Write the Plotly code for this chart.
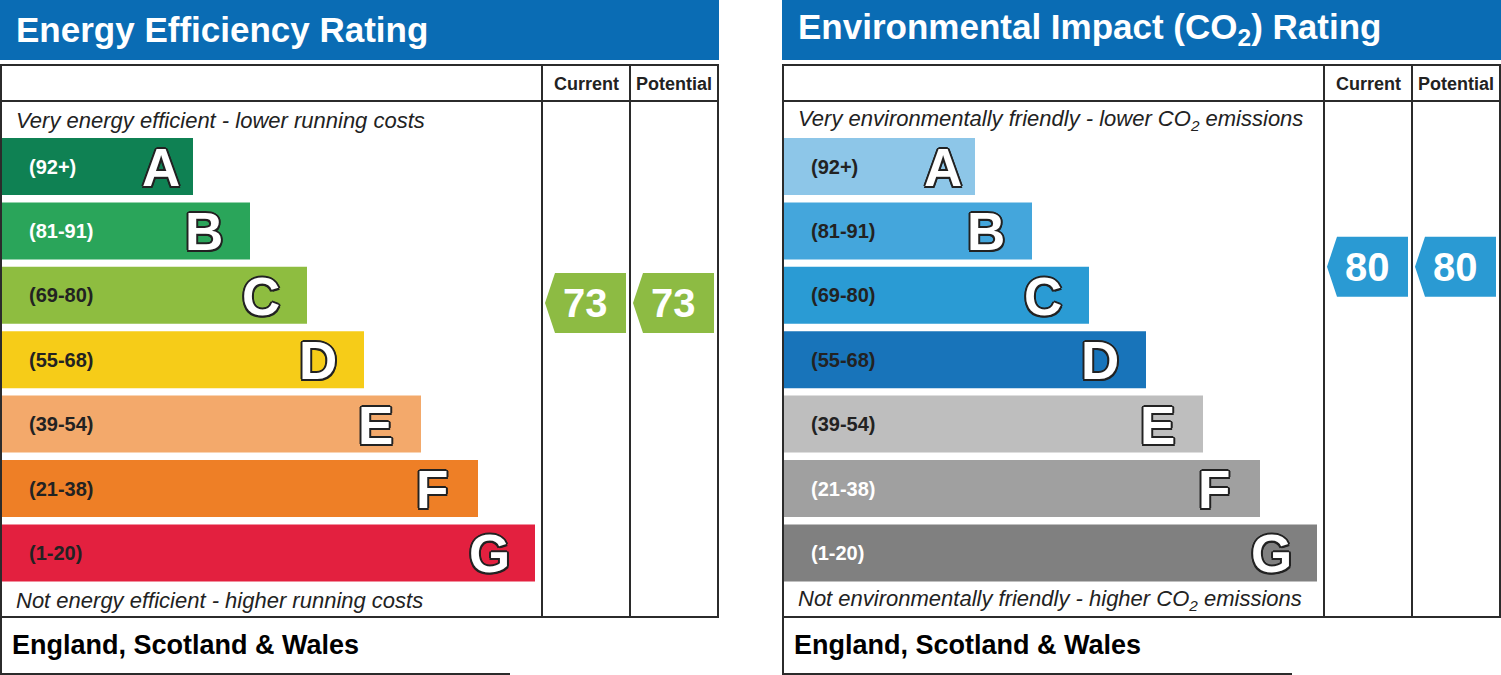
import plotly.graph_objects as go

# ---------------- data ----------------
bands = ["A", "B", "C", "D", "E", "F", "G"]
band_ranges = ["(92+)", "(81-91)", "(69-80)", "(55-68)", "(39-54)", "(21-38)", "(1-20)"]
band_lo = [92, 81, 69, 55, 39, 21, 1]
band_hi = [100, 91, 80, 68, 54, 38, 20]

ee_colors = ["#0f8153", "#2aa55a", "#8ebd40", "#f6cc18", "#f3a96b", "#ee7f26", "#e3203f"]
ee_label_colors = ["white", "white", "#222222", "#222222", "#222222", "#222222", "#222222"]
ei_colors = ["#8dc6e8", "#44a6dc", "#2a9bd4", "#1874ba", "#bebebe", "#a0a0a0", "#808080"]
ei_label_colors = ["#222222", "#222222", "#222222", "#222222", "#222222", "white", "white"]

ee_current, ee_potential = 73, 73
ei_current, ei_potential = 80, 80
ee_arrow_color = "#8dbb43"
ei_arrow_color = "#2a9ad3"

panels = [
    dict(ox=0, title="Energy Efficiency Rating",
         top_note="Very energy efficient - lower running costs",
         bottom_note="Not energy efficient - higher running costs",
         colors=ee_colors, label_colors=ee_label_colors,
         current=ee_current, potential=ee_potential, arrow=ee_arrow_color),
    dict(ox=782, title="Environmental Impact (CO<sub>2</sub>) Rating",
         top_note="Very environmentally friendly - lower CO<sub>2</sub> emissions",
         bottom_note="Not environmentally friendly - higher CO<sub>2</sub> emissions",
         colors=ei_colors, label_colors=ei_label_colors,
         current=ei_current, potential=ei_potential, arrow=ei_arrow_color),
]
region = "England, Scotland & Wales"
col_titles = ["Current", "Potential"]

# ---------------- layout geometry ----------------
BAR_TOP0, BAR_STEP, BAR_H = 138, 64.4, 57
BAR_LEN0, BAR_LEN_STEP = 191, 57
HEADER_BLUE = "#0a6cb4"
LINE = "#2b2b2b"
FONT = "Liberation Sans"

fig = go.Figure()
shapes, annotations = [], []


def score_to_y(score):
    for i, (lo, hi) in enumerate(zip(band_lo, band_hi)):
        if lo <= score <= hi:
            top = BAR_TOP0 + BAR_STEP * i
            return top + (hi - score) / (hi - lo) * BAR_H
    return BAR_TOP0


outline = ("-2px 0 0 #222, 2px 0 0 #222, 0 -2px 0 #222, 0 2px 0 #222, "
           "-1.5px -1.5px 0 #222, 1.5px -1.5px 0 #222, -1.5px 1.5px 0 #222, 1.5px 1.5px 0 #222")

for p in panels:
    ox = p["ox"]
    # header
    shapes.append(dict(type="rect", x0=ox, x1=ox + 719, y0=0, y1=60,
                       fillcolor=HEADER_BLUE, line=dict(width=0), layer="below"))
    annotations.append(dict(x=ox + 14, y=29, text=p["title"], showarrow=False,
                            xanchor="left", yanchor="middle",
                            font=dict(family=FONT, size=35, color="white", weight="bold")))
    # box frame
    shapes.append(dict(type="rect", x0=ox + 1, x1=ox + 718, y0=65, y1=617,
                       line=dict(color=LINE, width=2), layer="above"))
    shapes.append(dict(type="line", x0=ox + 1, x1=ox + 718, y0=101, y1=101,
                       line=dict(color=LINE, width=2)))
    for cx in (542, 630):
        shapes.append(dict(type="line", x0=ox + cx, x1=ox + cx, y0=65, y1=617,
                           line=dict(color=LINE, width=2)))
    # footer
    shapes.append(dict(type="line", x0=ox + 1, x1=ox + 1, y0=617, y1=674,
                       line=dict(color=LINE, width=2)))
    shapes.append(dict(type="line", x0=ox, x1=ox + 510, y0=674, y1=674,
                       line=dict(color=LINE, width=2)))
    annotations.append(dict(x=ox + 10, y=645, text=region, showarrow=False,
                            xanchor="left", yanchor="middle",
                            font=dict(family=FONT, size=27, color="black", weight="bold")))
    # column titles
    for ct, (a, b) in zip(col_titles, [(542, 630), (630, 718)]):
        annotations.append(dict(x=ox + (a + b) / 2, y=84, text=ct, showarrow=False,
                                xanchor="center", yanchor="middle",
                                font=dict(family=FONT, size=18, color="#222", weight="bold")))
    # notes
    annotations.append(dict(x=ox + 14, y=120, text=p["top_note"], showarrow=False,
                            xanchor="left", yanchor="middle",
                            font=dict(family=FONT, size=22, color="#222", style="italic")))
    annotations.append(dict(x=ox + 14, y=600, text=p["bottom_note"], showarrow=False,
                            xanchor="left", yanchor="middle",
                            font=dict(family=FONT, size=22, color="#222", style="italic")))
    # bars
    n = len(bands)
    centers = [BAR_TOP0 + BAR_STEP * i + BAR_H / 2 for i in range(n)]
    lengths = [BAR_LEN0 + BAR_LEN_STEP * i for i in range(n)]
    fig.add_trace(go.Bar(orientation="h", y=centers, x=lengths, base=[ox + 2] * n,
                         width=[BAR_H] * n, marker=dict(color=p["colors"], line=dict(width=0)),
                         showlegend=False, hoverinfo="skip"))
    for i in range(n):
        end = ox + 2 + lengths[i]
        annotations.append(dict(x=ox + 27, y=centers[i], text=band_ranges[i], showarrow=False,
                                xanchor="left", yanchor="middle",
                                font=dict(family=FONT, size=20, color=p["label_colors"][i],
                                          weight="bold")))
        lx = end - (32 if i == 0 else 46)
        annotations.append(dict(x=lx, y=centers[i] + 1, text=bands[i], showarrow=False,
                                xanchor="center", yanchor="middle",
                                font=dict(family=FONT, size=53, color="white", weight="bold",
                                          shadow=outline)))
    # arrows
    for score, (a, b) in zip([p["current"], p["potential"]], [(542, 630), (630, 718)]):
        yc = score_to_y(score)
        tip = ox + a + 3
        body = tip + 10
        right = ox + b - 4
        xs = [tip, body, right, right, body, tip]
        ys = [yc, yc - 30, yc - 30, yc + 30, yc + 30, yc]
        fig.add_trace(go.Scatter(x=xs, y=ys, fill="toself", fillcolor=p["arrow"],
                                 line=dict(width=0), mode="lines", showlegend=False,
                                 hoverinfo="skip"))
        annotations.append(dict(x=(tip + right) / 2, y=yc, text=str(score), showarrow=False,
                                xanchor="center", yanchor="middle",
                                font=dict(family=FONT, size=40, color="white", weight="bold")))

fig.update_layout(
    width=1501, height=675, margin=dict(l=0, r=0, t=0, b=0),
    paper_bgcolor="white", plot_bgcolor="white",
    barmode="overlay",
    xaxis=dict(range=[0, 1501], visible=False, fixedrange=True),
    yaxis=dict(range=[675, 0], visible=False, fixedrange=True),
    shapes=shapes, annotations=annotations,
)

fig.write_html("out.html", config={"displayModeBar": False},
               post_script="document.body.style.margin='0';document.body.style.overflow='hidden';")
